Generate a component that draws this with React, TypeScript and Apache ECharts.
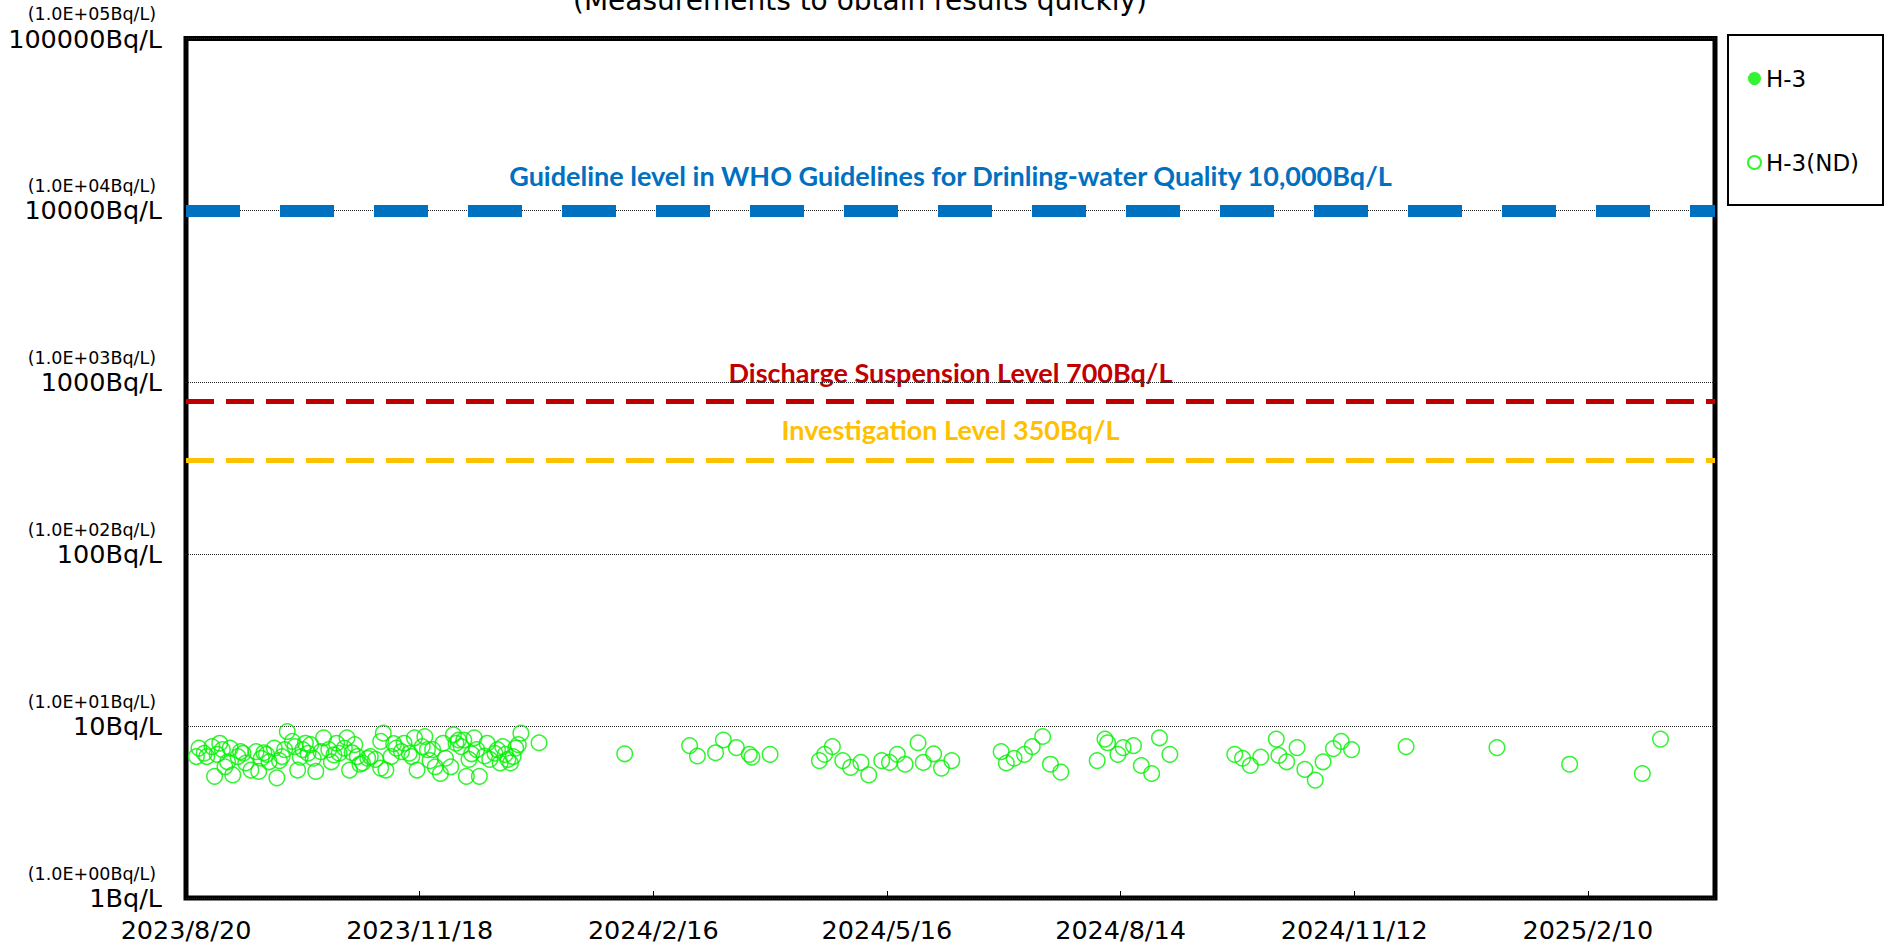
import React, { useEffect, useRef } from 'react';
import * as echarts from 'echarts';

// ---- axis definitions ----
const X_START = '2023-08-20';
const X_END = '2025-03-31';
const X_TICK_STEP_DAYS = 90;
const X_TICK_LABELS = ['2023/8/20', '2023/11/18', '2024/2/16', '2024/5/16', '2024/8/14', '2024/11/12', '2025/2/10'];
const Y_MAIN_LABELS = ['1Bq/L', '10Bq/L', '100Bq/L', '1000Bq/L', '10000Bq/L', '100000Bq/L'];
const Y_SUB_LABELS = ['(1.0E+00Bq/L)', '(1.0E+01Bq/L)', '(1.0E+02Bq/L)', '(1.0E+03Bq/L)', '(1.0E+04Bq/L)', '(1.0E+05Bq/L)'];

// ---- reference levels ----
const WHO_LEVEL = 10000;
// The 700 Bq/L line is drawn slightly above its nominal value in the reference picture
const DISCHARGE_LEVEL_DRAWN = 780;
const INVESTIGATION_LEVEL = 350;
const WHO_TEXT = 'Guideline level in WHO Guidelines for Drinling-water Quality 10,000Bq/L';
const DISCHARGE_TEXT = 'Discharge Suspension Level 700Bq/L';
const INVESTIGATION_TEXT = 'Investigation Level 350Bq/L';
const TITLE_TEXT = '(Measurements to obtain results quickly)';

// ---- series: detected H-3 (none in this period) ----
const H3_DATES: string[] = [];
const H3_VALUES: number[] = [];

// ---- series: H-3 not detected (detection limit values) ----
const ND_DATES = [
  '2023-08-24', '2023-08-25', '2023-08-27', '2023-08-28', '2023-08-30', '2023-08-31', '2023-09-01', '2023-09-02',
  '2023-09-03', '2023-09-04', '2023-09-05', '2023-09-06', '2023-09-07', '2023-09-09', '2023-09-10', '2023-09-11',
  '2023-09-12', '2023-09-14', '2023-09-16', '2023-09-17', '2023-09-18', '2023-09-19', '2023-09-20', '2023-09-21',
  '2023-09-23', '2023-09-24', '2023-09-25', '2023-09-26', '2023-09-27', '2023-09-28', '2023-09-30', '2023-10-01',
  '2023-10-02', '2023-10-03', '2023-10-04', '2023-10-05', '2023-10-06', '2023-10-07', '2023-10-08', '2023-10-09',
  '2023-10-11', '2023-10-12', '2023-10-14', '2023-10-15', '2023-10-16', '2023-10-17', '2023-10-18', '2023-10-20',
  '2023-10-21', '2023-10-22', '2023-10-23', '2023-10-24', '2023-10-25', '2023-10-26', '2023-10-27', '2023-10-29',
  '2023-10-30', '2023-11-01', '2023-11-03', '2023-11-03', '2023-11-04', '2023-11-05', '2023-11-07', '2023-11-08',
  '2023-11-09', '2023-11-11', '2023-11-12', '2023-11-14', '2023-11-15', '2023-11-16', '2023-11-17', '2023-11-19',
  '2023-11-20', '2023-11-21', '2023-11-22', '2023-11-23', '2023-11-24', '2023-11-26', '2023-11-27', '2023-11-28',
  '2023-11-30', '2023-12-01', '2023-12-02', '2023-12-03', '2023-12-04', '2023-12-05', '2023-12-06', '2023-12-07',
  '2023-12-08', '2023-12-09', '2023-12-10', '2023-12-11', '2023-12-13', '2023-12-14', '2023-12-15', '2023-12-17',
  '2023-12-18', '2023-12-19', '2023-12-20', '2023-12-21', '2023-12-22', '2023-12-23', '2023-12-24', '2023-12-25',
  '2023-12-26', '2023-12-27', '2024-01-03',
  '2024-02-05', '2024-03-01', '2024-03-04', '2024-03-11', '2024-03-14', '2024-03-19', '2024-03-24', '2024-03-25',
  '2024-04-01', '2024-04-20', '2024-04-22', '2024-04-25', '2024-04-29', '2024-05-02', '2024-05-06', '2024-05-09',
  '2024-05-14', '2024-05-17', '2024-05-20', '2024-05-23', '2024-05-28', '2024-05-30', '2024-06-03', '2024-06-06',
  '2024-06-10', '2024-06-29', '2024-07-01', '2024-07-04', '2024-07-08', '2024-07-11', '2024-07-15', '2024-07-18',
  '2024-07-22', '2024-08-05', '2024-08-08', '2024-08-09', '2024-08-13', '2024-08-15', '2024-08-19', '2024-08-22',
  '2024-08-26', '2024-08-29', '2024-09-02', '2024-09-27', '2024-09-30', '2024-10-03', '2024-10-07', '2024-10-13',
  '2024-10-14', '2024-10-17', '2024-10-21', '2024-10-24', '2024-10-28', '2024-10-31', '2024-11-04', '2024-11-07',
  '2024-11-11', '2024-12-02', '2025-01-06', '2025-02-03', '2025-03-03', '2025-03-10',
];
const ND_VALUES = [
  6.65, 7.45, 6.95, 6.65, 7.6, 5.1, 6.85, 7.95,
  7.3, 5.8, 6.2, 7.45, 5.2, 6.65, 7.1, 6.95,
  6.1, 5.55, 7.1, 5.45, 6.5, 7.0, 6.85, 6.2,
  7.45, 5.0, 6.3, 6.65, 7.3, 9.3, 8.15, 7.6,
  5.55, 6.6, 7.3, 7.95, 6.95, 7.8, 6.5, 5.45,
  7.1, 8.55, 7.3, 6.2, 6.8, 7.95, 6.95, 7.45,
  8.55, 5.55, 7.0, 7.8, 6.65, 6.0, 6.1, 6.5,
  6.65, 6.4, 8.15, 5.7, 9.1, 5.55, 6.65, 7.9,
  7.45, 7.1, 7.95, 6.95, 6.65, 8.55, 5.55, 7.6,
  8.7, 7.3, 6.3, 7.3, 5.8, 5.3, 7.95, 6.5,
  5.8, 8.9, 7.95, 8.3, 7.6, 8.3, 5.1, 6.4,
  6.9, 8.55, 7.3, 5.1, 6.7, 7.95, 6.4, 6.95,
  7.3, 6.1, 7.6, 6.85, 6.4, 6.1, 6.65, 7.45,
  7.8, 9.1, 8.0,
  6.9, 7.7, 6.7, 7.0, 8.3, 7.5, 6.85, 6.6,
  6.85, 6.3, 6.85, 7.6, 6.3, 5.75, 6.15, 5.2,
  6.3, 6.15, 6.85, 6.0, 8.0, 6.15, 6.9, 5.7,
  6.3, 7.1, 6.1, 6.5, 6.85, 7.6, 8.7, 6.0,
  5.4, 6.3, 8.4, 8.0, 6.85, 7.5, 7.7, 5.9,
  5.3, 8.55, 6.85, 6.85, 6.5, 5.9, 6.6, 8.4,
  6.75, 6.2, 7.5, 5.6, 4.85, 6.2, 7.4, 8.15,
  7.3, 7.6, 7.5, 6.0, 5.3, 8.4,
];

const GREEN = '#00f000';
const FONT = 'DejaVu Sans';
const LABEL_FONT = 'Lato';

const dayOf = (s: string): number => {
  const [y, m, d] = s.split('-').map(Number);
  const [y0, m0, d0] = X_START.split('-').map(Number);
  return Math.round((Date.UTC(y, m - 1, d) - Date.UTC(y0, m0 - 1, d0)) / 86400000);
};

export default function App() {
  const ref = useRef<HTMLDivElement>(null);

  useEffect(() => {
    if (!ref.current) return;
    const chart = echarts.init(ref.current, undefined, { renderer: 'svg' });

    const gridLeft = 186;
    const gridTop = 38.5;
    const gridWidth = 1529;
    const gridHeight = 859.5;
    const centerX = gridLeft + gridWidth / 2;

    const option: any = {
      animation: false,
      backgroundColor: '#ffffff',
      grid: {
        left: gridLeft,
        top: gridTop,
        width: gridWidth,
        height: gridHeight,
        show: true,
        borderColor: '#000',
        borderWidth: 5,
        backgroundColor: 'transparent',
      },
      legend: {
        orient: 'vertical',
        left: 1747,
        top: 67,
        itemGap: 61,
        itemWidth: 13,
        itemHeight: 13,
        padding: 0,
        textStyle: { fontSize: 23, fontFamily: FONT, color: '#000' },
        data: [
          { name: 'H-3', icon: 'circle' },
          { name: 'H-3(ND)', icon: 'circle' },
        ],
      },
      xAxis: {
        type: 'value',
        min: 0,
        max: dayOf(X_END),
        interval: X_TICK_STEP_DAYS,
        axisLine: { show: false },
        axisTick: { show: true, inside: true, length: 7, lineStyle: { color: '#000', width: 1 } },
        splitLine: { show: false },
        axisLabel: {
          showMaxLabel: false,
          margin: 19,
          fontSize: 25.5,
          fontFamily: FONT,
          color: '#000',
          formatter: (v: number) => {
            const i = Math.round(v / X_TICK_STEP_DAYS);
            return Math.abs(v - i * X_TICK_STEP_DAYS) < 0.01 && X_TICK_LABELS[i] ? X_TICK_LABELS[i] : '';
          },
        },
      },
      yAxis: {
        type: 'log',
        logBase: 10,
        min: 1,
        max: 100000,
        axisLine: { show: false },
        axisTick: { show: false },
        splitLine: { show: true, lineStyle: { color: '#222', width: 1, type: [1, 1] } },
        axisLabel: {
          margin: 24,
          color: '#000',
          fontFamily: FONT,
          formatter: (v: number) => {
            const i = Math.round(Math.log10(v));
            return `{s|${Y_SUB_LABELS[i]}}\n{b|${Y_MAIN_LABELS[i]}}\n{e| }`;
          },
          rich: {
            s: { fontSize: 17.5, lineHeight: 23, fontFamily: FONT, color: '#000', align: 'right', padding: [0, 6, 0, 0] },
            b: { fontSize: 25.5, lineHeight: 26, fontFamily: FONT, color: '#000', align: 'right' },
            e: { fontSize: 17.5, lineHeight: 23, fontFamily: FONT, align: 'right' },
          },
        },
      },
      series: [
        {
          name: 'H-3',
          type: 'scatter',
          symbol: 'circle',
          symbolSize: 12,
          itemStyle: { color: GREEN },
          data: H3_DATES.map((d, i) => [dayOf(d), H3_VALUES[i]]),
        },
        {
          name: 'H-3(ND)',
          type: 'scatter',
          symbol: 'circle',
          symbolSize: 15.5,
          z: 5,
          itemStyle: { color: 'rgba(0,0,0,0)', borderColor: GREEN, borderWidth: 1.5 },
          data: ND_DATES.map((d, i) => [dayOf(d), ND_VALUES[i]]),
          markLine: {
            silent: true,
            symbol: 'none',
            z: 3,
            label: { show: false },
            data: [
              { yAxis: WHO_LEVEL, lineStyle: { color: '#0070C0', width: 12, type: [54, 40], cap: 'butt' } },
              { yAxis: DISCHARGE_LEVEL_DRAWN, lineStyle: { color: '#C00000', width: 5, type: [28, 12], cap: 'butt' } },
              { yAxis: INVESTIGATION_LEVEL, lineStyle: { color: '#FFC000', width: 5, type: [28, 12], cap: 'butt' } },
            ],
          },
        },
      ],
      graphic: [
        {
          type: 'rect',
          shape: { x: 1728, y: 35, width: 155, height: 170 },
          style: { fill: 'transparent', stroke: '#000', lineWidth: 2 },
        },
        {
          type: 'text',
          x: 860,
          y: -14,
          style: { text: TITLE_TEXT, fontSize: 28, fontFamily: FONT, fill: '#000', textAlign: 'center', textVerticalAlign: 'top' },
        },
        {
          type: 'text',
          x: centerX,
          y: 175,
          style: { text: WHO_TEXT, fontSize: 27, fontWeight: 'bold', fontFamily: LABEL_FONT, fill: '#0070C0', textAlign: 'center', textVerticalAlign: 'middle' },
        },
        {
          type: 'text',
          x: centerX,
          y: 372,
          style: { text: DISCHARGE_TEXT, fontSize: 27, fontWeight: 'bold', fontFamily: LABEL_FONT, fill: '#C00000', textAlign: 'center', textVerticalAlign: 'middle' },
        },
        {
          type: 'text',
          x: centerX,
          y: 429,
          style: { text: INVESTIGATION_TEXT, fontSize: 27, fontWeight: 'bold', fontFamily: LABEL_FONT, fill: '#FFC000', textAlign: 'center', textVerticalAlign: 'middle' },
        },
      ],
    };

    chart.setOption(option);
    return () => chart.dispose();
  }, []);

  return (
    <div
      ref={ref}
      style={{ position: 'fixed', left: 0, top: 0, width: 1886, height: 947, background: '#fff' }}
    />
  );
}
